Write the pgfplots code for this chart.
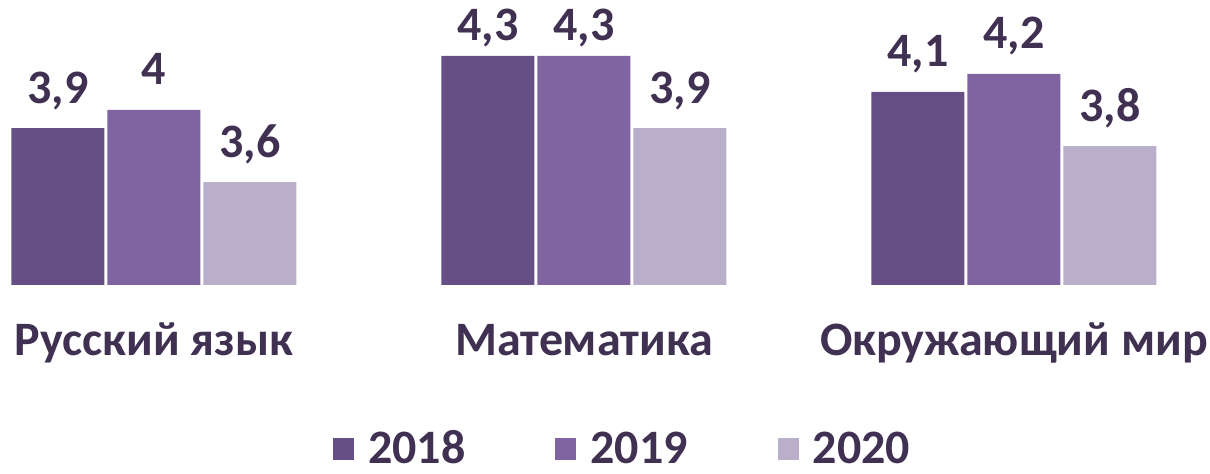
\documentclass[border=0pt]{standalone}
\usepackage{fontspec}
\setmainfont{Carlito}
\usepackage{pgfplots}
\pgfplotsset{compat=1.18}
\definecolor{c18}{HTML}{664F85}
\definecolor{c19}{HTML}{8064A2}
\definecolor{c20}{HTML}{B9AFCB}
\definecolor{txt}{HTML}{403152}
\newcommand{\bigf}{\fontsize{24}{28}\selectfont\bfseries}
\begin{document}
\begin{tikzpicture}[x=1pt,y=1pt]
\path[use as bounding box] (0,0) rectangle (605,-237);
\begin{axis}[
  at={(0,0)}, anchor=north west,
  scale only axis, width=605pt, height=142.5pt,
  xmin=-0.358, xmax=2.456, ymin=3.028, ymax=4.611,
  clip=false,
  axis line style={draw=none},
  ymajorticks=false,
  major tick length=0pt,
  ybar=1.5pt, bar width=46.5pt,
  xtick={0,1,2},
  xticklabels={Русский язык, Математика, Окружающий мир},
  xticklabel style={font=\bigf, text=txt, anchor=base, yshift=-35.5pt},
  visualization depends on={y \as \rawy},
  nodes near coords,
  nodes near coords style={font=\bigf, text=txt, anchor=base,
    yshift={(\rawy>4.25 ? 7.5 : 12.5)*1pt},
    /pgf/number format/.cd, assume math mode=true, use comma, fixed, precision=1},
  legend style={at={(0.5145,-0.575)}, anchor=center, draw=none, fill=none,
    legend columns=3, font=\bigf, text=txt, inner sep=0pt,
    nodes={inner sep=1pt},
    /tikz/every even column/.append style={column sep=44pt},
    /tikz/every odd column/.append style={column sep=6pt},
    legend cell align=left},
  legend image code/.code={\fill[#1,draw=none] (0pt,-5.5pt) rectangle (10.5pt,5.5pt);},
]
\addplot[fill=c18, draw=none] coordinates {(0,3.9) (1,4.3) (2,4.1)};
\addplot[fill=c19, draw=none] coordinates {(0,4.0) (1,4.3) (2,4.2)};
\addplot[fill=c20, draw=none] coordinates {(0,3.6) (1,3.9) (2,3.8)};
\legend{2018,2019,2020}
\end{axis}
\end{tikzpicture}
\end{document}
